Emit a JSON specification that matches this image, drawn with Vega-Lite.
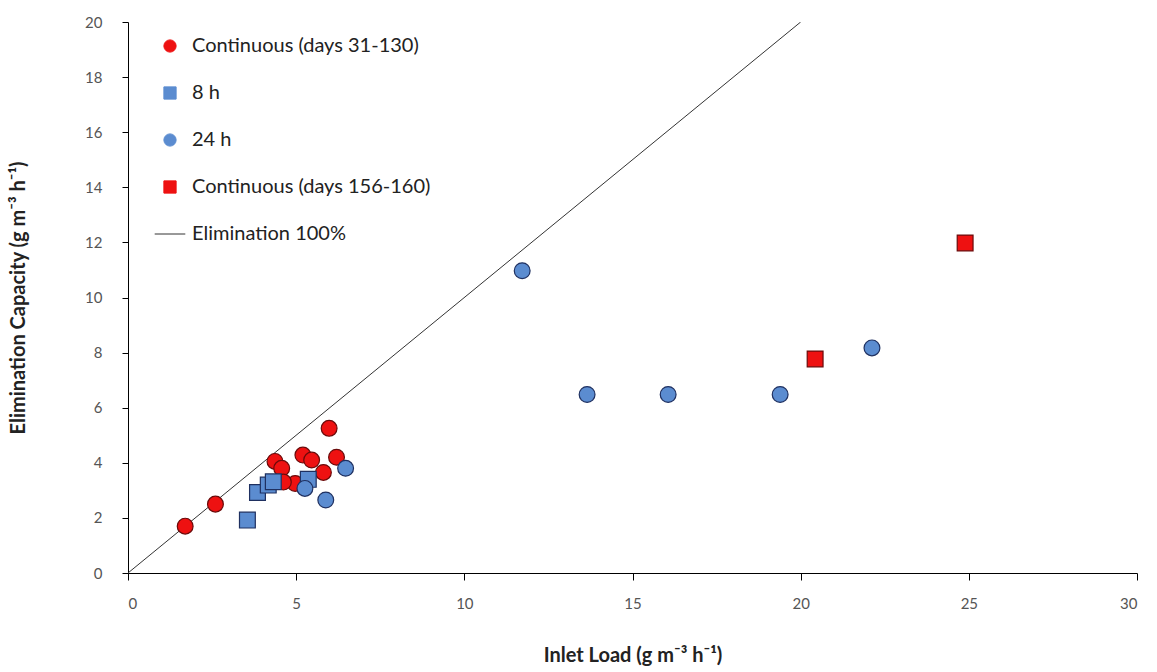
{
  "$schema": "https://vega.github.io/schema/vega-lite/v6.json",
  "width": 1009,
  "height": 551,
  "autosize": "none",
  "padding": {"left": 128, "top": 22, "right": 20, "bottom": 99},
  "background": "white",
  "config": {
    "view": {"stroke": null},
    "font": "Lato",
    "axis": {"grid": false, "domainColor": "#000000", "tickColor": "#000000", "labelColor": "#555555", "labelFontSize": 15, "labelFont": "Lato", "titleFont": "Lato", "titleFontSize": 20, "titleFontWeight": "bold", "titleColor": "#222222"}
  },
  "datasets": {
    "pts": [
      {"series": "Continuous (days 31-130)", "x": 1.7, "y": 1.7},
      {"series": "Continuous (days 31-130)", "x": 2.6, "y": 2.5},
      {"series": "Continuous (days 31-130)", "x": 4.37, "y": 4.05},
      {"series": "Continuous (days 31-130)", "x": 4.57, "y": 3.8},
      {"series": "Continuous (days 31-130)", "x": 5.2, "y": 4.28},
      {"series": "Continuous (days 31-130)", "x": 5.46, "y": 4.1},
      {"series": "Continuous (days 31-130)", "x": 5.81, "y": 3.65},
      {"series": "Continuous (days 31-130)", "x": 5.98, "y": 5.25},
      {"series": "Continuous (days 31-130)", "x": 6.2, "y": 4.2},
      {"series": "Continuous (days 31-130)", "x": 4.97, "y": 3.25},
      {"series": "Continuous (days 31-130)", "x": 4.62, "y": 3.3},
      {"series": "8 h", "x": 3.55, "y": 1.92},
      {"series": "8 h", "x": 3.85, "y": 2.92},
      {"series": "8 h", "x": 4.17, "y": 3.19},
      {"series": "8 h", "x": 4.32, "y": 3.31},
      {"series": "8 h", "x": 5.36, "y": 3.4},
      {"series": "24 h", "x": 5.26, "y": 3.07},
      {"series": "24 h", "x": 5.88, "y": 2.65},
      {"series": "24 h", "x": 6.47, "y": 3.8},
      {"series": "24 h", "x": 11.72, "y": 10.97},
      {"series": "24 h", "x": 13.65, "y": 6.48},
      {"series": "24 h", "x": 16.06, "y": 6.48},
      {"series": "24 h", "x": 19.39, "y": 6.48},
      {"series": "24 h", "x": 22.12, "y": 8.17},
      {"series": "Continuous (days 156-160)", "x": 20.43, "y": 7.77},
      {"series": "Continuous (days 156-160)", "x": 24.89, "y": 11.98}
    ],
    "line": [
      {"series": "Elimination 100%", "x": 0, "y": 0},
      {"series": "Elimination 100%", "x": 20, "y": 20}
    ]
  },
  "layer": [
    {
      "data": {"name": "line"},
      "mark": {"type": "line", "strokeWidth": 1, "clip": true},
      "encoding": {
        "x": {"field": "x", "type": "quantitative"},
        "y": {"field": "y", "type": "quantitative"},
        "color": {"field": "series", "type": "nominal"}
      }
    },
    {
      "data": {"name": "pts"},
      "mark": {"type": "point", "filled": true, "opacity": 1, "size": 250, "strokeWidth": 1.2},
      "encoding": {
        "x": {"field": "x", "type": "quantitative", "title": "Inlet Load (g m⁻³ h⁻¹)",
              "scale": {"domain": [0, 30], "nice": false},
              "axis": {"values": [0, 5, 10, 15, 20, 25, 30], "tickSize": 7, "labelPadding": 16, "titlePadding": 34}},
        "y": {"field": "y", "type": "quantitative", "title": "Elimination Capacity (g m⁻³ h⁻¹)",
              "scale": {"domain": [0, 20], "nice": false},
              "axis": {"values": [0, 2, 4, 6, 8, 10, 12, 14, 16, 18, 20], "tickSize": 6, "labelPadding": 20, "titlePadding": 56}},
        "color": {"field": "series", "type": "nominal",
          "scale": {"domain": ["Continuous (days 31-130)", "8 h", "24 h", "Continuous (days 156-160)", "Elimination 100%"],
                    "range": ["#ee1111", "#5b8cd0", "#5b8cd0", "#ee1111", "#333333"]},
          "legend": {"title": null, "orient": "none", "legendX": 32, "legendY": 14, "labelFontSize": 20, "labelLimit": 0, "labelColor": "#222222", "labelFont": "Lato", "symbolSize": 150, "rowPadding": 27, "labelOffset": 12,
                     "symbolStrokeColor": "#333333", "symbolStrokeWidth": 1}},
        "shape": {"field": "series", "type": "nominal",
          "scale": {"domain": ["Continuous (days 31-130)", "8 h", "24 h", "Continuous (days 156-160)", "Elimination 100%"],
                    "range": ["circle", "square", "circle", "square", "M-2.5,0L2.5,0"]}},
        "stroke": {"field": "series", "type": "nominal", "legend": null,
          "scale": {"domain": ["Continuous (days 31-130)", "8 h", "24 h", "Continuous (days 156-160)", "Elimination 100%"],
                    "range": ["#6a0a0a", "#1f3060", "#1f3060", "#6a0a0a", "#333333"]}}
      }
    }
  ]
}
